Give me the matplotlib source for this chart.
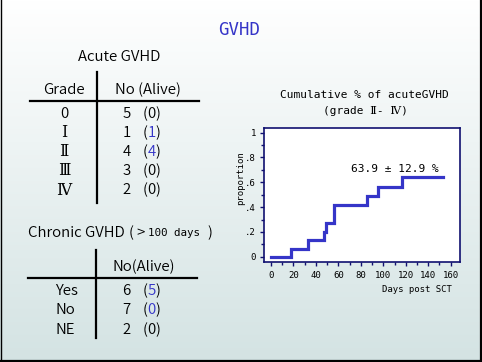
import numpy as np
import matplotlib
matplotlib.use('Agg')
import matplotlib.pyplot as plt
from matplotlib.lines import Line2D

# ---------------- data ----------------
days = [0, 17.5, 33, 47, 48.7, 55.8, 85.3, 95, 116.6, 153.5]
proportion = [0, 0.066, 0.132, 0.2, 0.272, 0.417, 0.49, 0.56, 0.639, 0.639]
annotation = "63.9 ± 12.9 %"

acute_grades = ['0', 'Ⅰ', 'Ⅱ', 'Ⅲ', 'Ⅳ']
acute_no = [5, 1, 4, 3, 2]
acute_alive = [0, 1, 4, 0, 0]
acute_alive_blue = [False, True, True, False, False]

chronic_cats = ['Yes', 'No', 'NE']
chronic_no = [6, 7, 2]
chronic_alive = [5, 0, 0]
chronic_alive_blue = [True, True, False]

x_ticks = [0, 20, 40, 60, 80, 100, 120, 140, 160]
y_ticks = [0, 0.2, 0.4, 0.6, 0.8, 1.0]
y_ticklabels = ['0', '.2', '.4', '.6', '.8', '1']

# ---------------- figure ----------------
W, H = 482, 362
fig = plt.figure(figsize=(W / 100, H / 100), dpi=100)

BLUE = '#3535c8'
SANS = ['Noto Sans CJK JP', 'DejaVu Sans']
SERIF = ['DejaVu Serif', 'Noto Sans CJK JP']
MONO = ['DejaVu Sans Mono', 'DejaVu Serif', 'Noto Sans CJK JP']
TW = 350  # text weight

# background gradient
bg = fig.add_axes([0, 0, 1, 1], zorder=-10)
g = np.linspace(0, 1, 256)[:, None, None]
top = np.array([1.0, 1.0, 1.0])
bot = np.array([0.83, 0.89, 0.89])
img = top * (1 - g) + bot * g
bg.imshow(img, aspect='auto', extent=[0, 1, 0, 1])
bg.axis('off')

# outer border (left, right, bottom)
fig.add_artist(Line2D([0.5 / W, 0.5 / W], [0, 1], color='black', lw=1.0, transform=fig.transFigure))
fig.add_artist(Line2D([1 - 1 / W, 1 - 1 / W], [0, 1], color='black', lw=1.6, transform=fig.transFigure))
fig.add_artist(Line2D([0, 1], [1 / H, 1 / H], color='black', lw=1.6, transform=fig.transFigure))


def put(x, y, s, size, color='black', ha='center', family=SANS, weight=TW):
    yb = y + 0.36 * size * 100 / 72
    fig.text(x / W, 1 - yb / H, s, fontsize=size, color=color, ha=ha, va='baseline',
             family=family, fontweight=weight)


def hline(x0, x1, y, lw=1.6):
    fig.add_artist(Line2D([x0 / W, x1 / W], [1 - y / H, 1 - y / H], color='black', lw=lw,
                          transform=fig.transFigure))


def vline(x, y0, y1, lw=1.6):
    fig.add_artist(Line2D([x / W, x / W], [1 - y0 / H, 1 - y1 / H], color='black', lw=lw,
                          transform=fig.transFigure))


# main title
put(239, 28.3, 'GVHD', 12.5, color=BLUE, family=MONO, weight='normal')

# ---- Acute table ----
TS = 10.8
put(119, 55.7, 'Acute GVHD', TS)
put(64, 88.3, 'Grade', TS)
put(147.5, 88.3, 'No (Alive)', TS)
hline(30, 199, 101)
vline(97, 71.7, 203.3)
row_y = [112.7, 131.5, 150.5, 169.5, 189]
for i, gname in enumerate(acute_grades):
    y = row_y[i]
    put(64, y, gname, TS + 0.5 if i else TS, family=SERIF if i else SANS,
        weight='normal' if i else TW)
    put(126.7, y, str(acute_no[i]), TS)
    put(145.5, y, '(', TS)
    put(151.7, y, str(acute_alive[i]), TS, color=BLUE if acute_alive_blue[i] else 'black')
    put(158.3, y, ')', TS)

# ---- Chronic table ----
put(28.3, 231.7, 'Chronic GVHD', TS, ha='left')
put(131, 231.7, '(', TS)
put(140.7, 231.7, '>', TS)
put(147.7, 232.5, '100 days', 7.8, ha='left', family=MONO, weight='normal')
put(210, 231.7, ')', TS)
put(143.8, 265.7, 'No(Alive)', TS)
hline(28.3, 196.7, 277.7)
vline(96.3, 250, 338.3)
crow_y = [290, 309, 328.3]
for i, c in enumerate(chronic_cats):
    y = crow_y[i]
    put(55.5, y, c, TS, ha='left')
    put(126.7, y, str(chronic_no[i]), TS)
    put(145.5, y, '(', TS)
    put(151.7, y, str(chronic_alive[i]), TS, color=BLUE if chronic_alive_blue[i] else 'black')
    put(158.3, y, ')', TS)

# ---- chart ----
NAVY = '#101070'
ax = fig.add_axes([264.3 / W, 1 - 262.3 / H, (460 - 264.3) / W, (262.3 - 127.7) / H])
ax.set_facecolor('white')
ax.step(days, proportion, where='post', color=BLUE, lw=2.3, solid_joinstyle='miter')
ax.set_xlim(-6, 168.3)
ax.set_ylim(-0.045, 1.04)
ax.set_xticks(x_ticks)
ax.set_xticklabels([str(v) for v in x_ticks])
ax.set_xticks(np.arange(10, 170, 20), minor=True)
ax.set_yticks(y_ticks)
ax.set_yticklabels(y_ticklabels)
ax.set_yticks(np.arange(0.1, 1.0, 0.2), minor=True)
for s in ax.spines.values():
    s.set_color(NAVY)
    s.set_linewidth(1.2)
ax.tick_params(which='both', direction='out', color=NAVY, width=1.0, labelsize=6.5)
ax.tick_params(which='major', length=3, pad=3)
ax.tick_params(which='minor', length=2)
for lab in ax.get_xticklabels() + ax.get_yticklabels():
    lab.set_family(MONO)
ax.text(110, 0.705, annotation, fontsize=8, ha='center', va='center', family=MONO)

put(364, 94, 'Cumulative % of acuteGVHD', 8, family=MONO, weight='normal')
put(365, 110, '(grade Ⅱ- Ⅳ)', 8, family=MONO, weight='normal')
fig.text(241 / W, 1 - 178 / H, 'proportion', rotation=90, fontsize=6.5, ha='center', va='center',
         family=MONO)
put(451.7, 288.3, 'Days post SCT', 6.5, ha='right', family=MONO, weight='normal')

fig.savefig('out.png', dpi=100)
